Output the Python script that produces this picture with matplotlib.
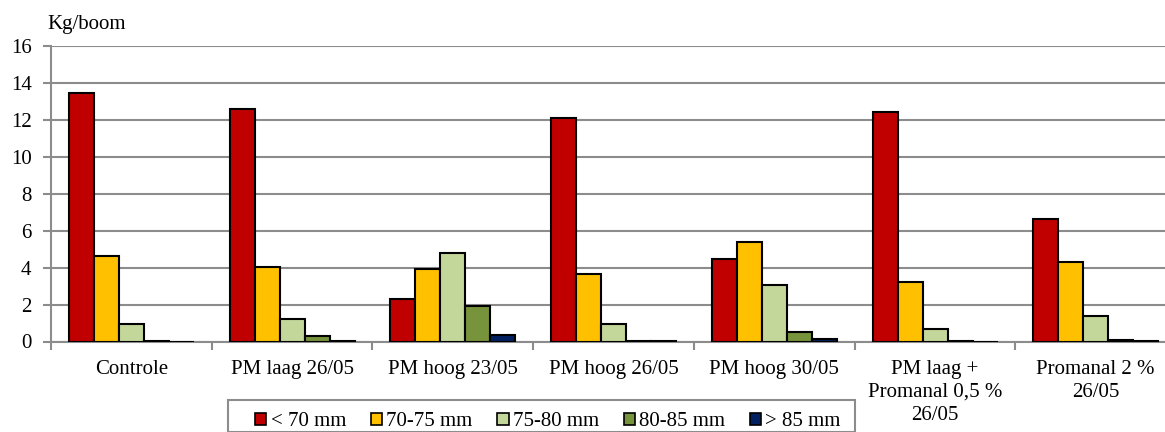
import numpy as np
import matplotlib
matplotlib.use("Agg")
import matplotlib.pyplot as plt
from matplotlib.patches import Patch, Rectangle

plt.rcParams['font.family'] = ['Liberation Serif', 'DejaVu Serif']

groepen = ["Controle", "PM laag 26/05", "PM hoog 23/05", "PM hoog 26/05",
           "PM hoog 30/05", "PM laag +\nPromanal 0,5 %\n26/05", "Promanal 2 %\n26/05"]
klassen = ["< 70 mm", "70-75 mm", "75-80 mm", "80-85 mm", "> 85 mm"]

onder70 = [13.45, 12.6, 2.3, 12.1, 4.48, 12.4, 6.65]
k70_75 = [4.62, 4.02, 3.92, 3.64, 5.38, 3.22, 4.3]
k75_80 = [0.95, 1.22, 4.78, 0.97, 3.08, 0.67, 1.38]
k80_85 = [0.04, 0.3, 1.9, 0.03, 0.52, 0.02, 0.08]
boven85 = [0.0, 0.02, 0.36, 0.03, 0.14, 0.0, 0.03]

kleuren = ["#C00000", "#FFC000", "#C4D79B", "#77933C", "#002060"]
reeksen = [onder70, k70_75, k75_80, k80_85, boven85]

W, H = 1165, 432
fig = plt.figure(figsize=(W/100, H/100), dpi=100)
ax = fig.add_axes([51/W, 1 - 341.5/H, 1125/W, 295.5/H])

x = np.arange(len(groepen))
w = 25/160.7
start = -0.5 + 18/160.7
for i, (vals, kl) in enumerate(zip(reeksen, kleuren)):
    ax.bar(x + start + i*w, vals, width=w, align='edge', color=kl,
           edgecolor='black', linewidth=1.5, zorder=3)

ax.set_xlim(-0.5, len(groepen) - 0.5)
ax.set_ylim(0, 16)
ax.set_yticks(range(0, 17, 2))
ax.yaxis.grid(True, color='#8C8C8C', linewidth=1.5, zorder=0)

ax.set_xticks(np.arange(len(groepen) + 1) - 0.5)
ax.set_xticklabels([])
ax.set_xticks(x, minor=True)
ax.set_xticklabels(groepen, minor=True, fontsize=15, linespacing=1.3, va='top')
ax.tick_params(axis='x', which='minor', length=0, pad=13)
ax.tick_params(axis='x', which='major', length=6, width=1.5, color='#8C8C8C')
ax.tick_params(axis='y', length=6, width=1.5, color='#8C8C8C', labelsize=15, pad=8)

for s in ['top', 'right']:
    ax.spines[s].set_visible(False)
for s in ['left', 'bottom']:
    ax.spines[s].set_color('#8C8C8C')
    ax.spines[s].set_linewidth(1.5)

fig.text(47/W, 1 - 24/H, "Kg/boom", fontsize=15, va='center', ha='left')

# legendekader
fig.add_artist(Rectangle((228/W, 0), (855 - 228)/W, 32/H, transform=fig.transFigure,
                         facecolor='white', edgecolor='#8C8C8C', linewidth=1.5,
                         clip_on=False))
handles = [Patch(facecolor=k, edgecolor='black', linewidth=1.2) for k in kleuren]
leg = fig.legend(handles, klassen, ncol=5, loc='center',
                 bbox_to_anchor=(548/W, 1 - 422/H), fontsize=15,
                 handlelength=0.53, handleheight=0.53, handletextpad=0.2,
                 columnspacing=1.2, frameon=False, borderpad=0, borderaxespad=0)

fig.savefig("out.png", dpi=100)
